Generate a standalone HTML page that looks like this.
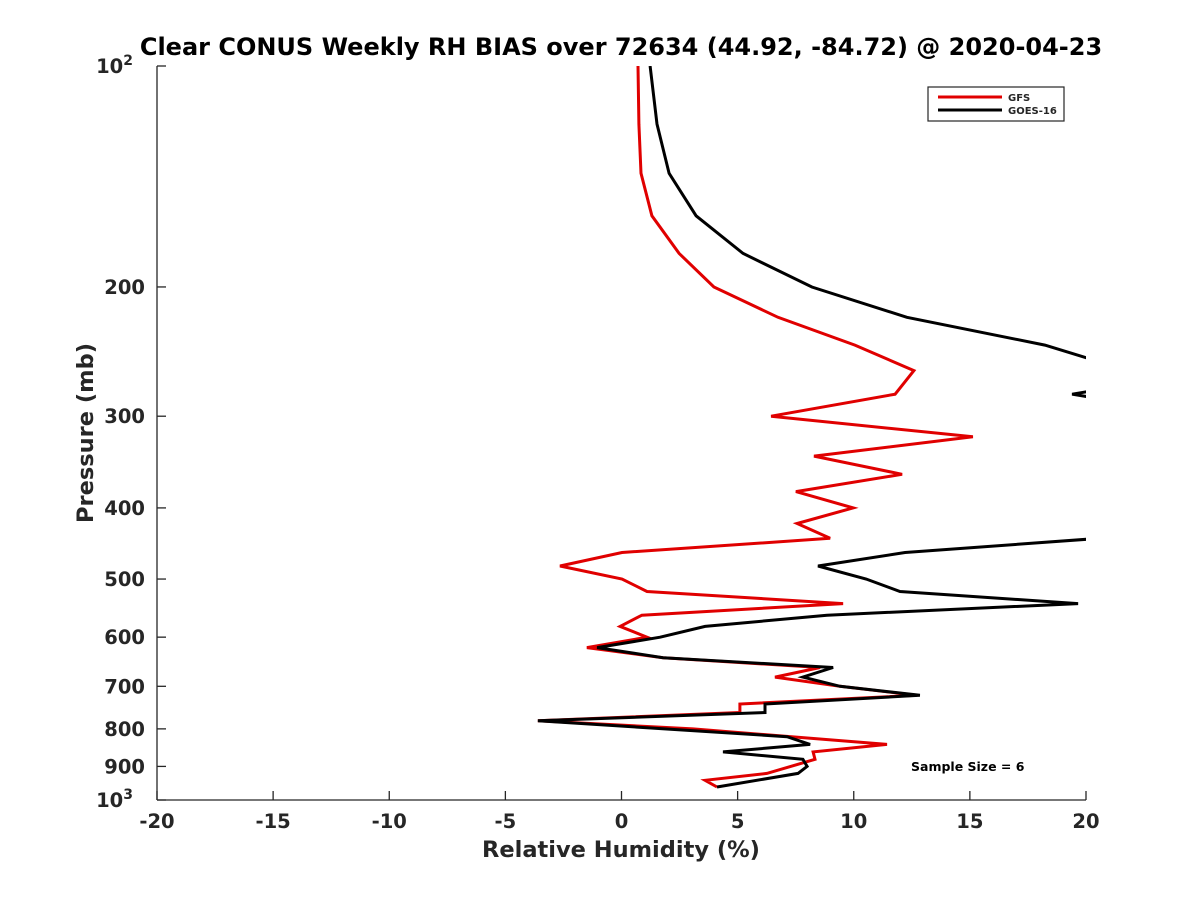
<!DOCTYPE html>
<html><head><meta charset="utf-8">
<style>
html,body{margin:0;padding:0;background:#fff;}
svg text{font-family:"DejaVu Sans","Liberation Sans",sans-serif;font-weight:bold;fill:#262626;}
</style></head>
<body>
<svg id="chart" width="1200" height="900" viewBox="0 0 1200 900" xmlns="http://www.w3.org/2000/svg">
<defs><clipPath id="clip"><rect x="157" y="66" width="929" height="734"/></clipPath></defs>
<text x="621" y="55" text-anchor="middle" font-size="24" style="fill:#000">Clear CONUS Weekly RH BIAS over 72634 (44.92, -84.72) @ 2020-04-23</text>
<g id="axes"></g>
<g id="series" clip-path="url(#clip)"></g>
<text x="621" y="857" text-anchor="middle" font-size="22.5">Relative Humidity (%)</text>
<text transform="translate(93,433) rotate(-90)" text-anchor="middle" font-size="22.5">Pressure (mb)</text>
<g>
<rect x="928" y="87" width="136" height="34" fill="#fff" stroke="#262626" stroke-width="1.2"/>
<line x1="938" y1="97" x2="1002" y2="97" stroke="#e00000" stroke-width="3"/>
<text x="1008" y="101" font-size="10">GFS</text>
<line x1="938" y1="110" x2="1002" y2="110" stroke="#000" stroke-width="3"/>
<text x="1008" y="114" font-size="10">GOES-16</text>
</g>
<text x="911" y="771" font-size="12.5" style="fill:#000">Sample Size = 6</text>
</svg>
<script>
const xTicks = [-20,-15,-10,-5,0,5,10,15,20];
const yTicks = [100,200,300,400,500,600,700,800,900,1000];
const yTickLabels = ["10","200","300","400","500","600","700","800","900","10"];
const gfsPressure = [100,120,140,160,180,200,220,240,260,280,300,320,340,360,380,400,420,440,460,480,500,520,540,560,580,600,620,640,660,680,700,720,740,760,780,800,840,860,880,920,940,960];
const gfsRH = [0.71,0.75,0.84,1.31,2.48,3.98,6.74,10.05,12.59,11.78,6.44,15.13,8.29,12.08,7.51,9.97,7.56,8.98,0.02,-2.65,0.02,1.1,9.54,0.88,-0.06,1.1,-1.49,1.79,8.55,6.61,9.41,12.72,5.1,5.1,-3.6,3.08,11.43,8.25,8.33,6.26,3.6,4.11];
const goesPressure = [100,120,140,160,180,200,220,240,260,276,280,284,300,320,340,360,380,400,420,440,460,480,500,520,540,560,580,600,620,640,660,680,700,720,740,760,780,820,840,860,880,900,920,960];
const goesRH = [1.23,1.53,2.05,3.21,5.23,8.2,12.29,18.23,21.8,20.6,19.4,20.6,25,25,25,25,25,25,25,20.6,12.21,8.46,10.53,11.99,19.66,8.85,3.6,1.66,-1.05,1.79,9.11,7.81,9.41,12.85,6.18,6.18,-3.6,7.13,8.12,4.37,7.81,7.99,7.6,4.11];

const X0=157,X1=1086,Y0=66,Y1=800;
function xs(v){return X0+(v+20)/40*(X1-X0);}
function ys(p){return Y0+Math.log10(p/100)*(Y1-Y0);}
const NS="http://www.w3.org/2000/svg";
const axes=document.getElementById('axes');
function mk(tag,attrs,parent){const e=document.createElementNS(NS,tag);for(const k in attrs)e.setAttribute(k,attrs[k]);parent.appendChild(e);return e;}

const yAxis=mk('line',{x1:X0,y1:Y0,x2:X0,y2:Y1,stroke:'#262626','stroke-width':1.3},axes);


const xAxis=mk('line',{x1:X0,y1:Y1,x2:X1,y2:Y1,stroke:'#262626','stroke-width':1.3},axes);



xTicks.forEach(v=>{
  const x=xs(v);
  const t=mk('line',{x1:x,y1:Y1,x2:x,y2:Y1-9,stroke:'#262626','stroke-width':1.3},axes);
  
  
  const l=mk('text',{x:x,y:Y1+28,'text-anchor':'middle','font-size':19.5},axes);
  l.textContent=String(v);
  
  
});
yTicks.forEach((p,i)=>{
  const y=ys(p);
  const t=mk('line',{x1:X0,y1:y,x2:X0+9,y2:y,stroke:'#262626','stroke-width':1.3},axes);
  
  
  const l=mk('text',{x:X0-12,y:y+7,'text-anchor':'end','font-size':19.5},axes);
  
  
  if(p===100||p===1000){
    l.setAttribute('x',X0-24);
    l.textContent=yTickLabels[i];
    const s=mk('tspan',{dy:-8,'font-size':14},l);
    s.textContent=p===100?'2':'3';
  } else l.textContent=yTickLabels[i];
});

const series=document.getElementById('series');
function drawLine(ps,vs,color,name){
  const d=ps.map((p,i)=>(i?'L':'M')+xs(vs[i]).toFixed(1)+','+ys(p).toFixed(1)).join(' ');
  const path=mk('path',{d:d,fill:'none',stroke:color,'stroke-width':3,'stroke-linejoin':'miter'},series);
  
  
}
drawLine(gfsPressure,gfsRH,'#e00000','gfs-line');
drawLine(goesPressure,goesRH,'#000','goes16-line');
</script>
</body></html>
